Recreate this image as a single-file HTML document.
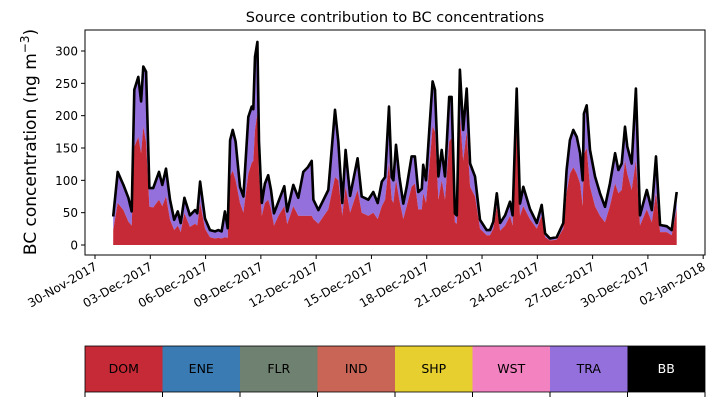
<!DOCTYPE html>
<html><head><meta charset="utf-8"><style>
body{margin:0;background:#fff;font-family:"Liberation Sans","DejaVu Sans",sans-serif}
svg text{font-family:"DejaVu Sans","Liberation Sans",sans-serif}
</style></head><body>
<svg id="c" width="714" height="402" xmlns="http://www.w3.org/2000/svg"></svg>
<script>
const days=[0.99,1.23,1.54,1.81,1.99,2.13,2.35,2.50,2.62,2.77,2.95,3.16,3.47,3.65,3.85,4.07,4.30,4.49,4.65,4.85,5.15,5.43,5.55,5.70,5.97,6.24,6.51,6.69,6.87,7.05,7.20,7.33,7.47,7.63,7.87,8.05,8.32,8.50,8.59,8.68,8.81,8.90,9.05,9.22,9.40,9.55,9.71,9.95,10.27,10.43,10.76,11.03,11.30,11.54,11.76,11.85,12.12,12.66,13.02,13.20,13.42,13.60,13.84,14.25,14.47,14.83,15.10,15.34,15.56,15.74,15.95,16.10,16.19,16.33,16.51,16.73,16.91,17.18,17.36,17.54,17.73,17.81,17.96,18.14,18.32,18.45,18.63,18.81,18.99,19.22,19.35,19.53,19.63,19.80,19.98,20.17,20.35,20.62,20.89,21.25,21.43,21.61,21.80,21.98,22.25,22.52,22.66,22.88,23.06,23.24,23.60,23.97,24.24,24.42,24.69,25.05,25.41,25.59,25.77,25.95,26.14,26.32,26.46,26.53,26.68,26.86,27.13,27.40,27.67,27.94,28.22,28.40,28.58,28.76,28.88,29.12,29.35,29.57,29.94,30.21,30.44,30.66,31.02,31.29,31.56];
const total=[44,113,93,73,52,240,260,222,276,268,88,88,113,93,118,70,39,52,34,73,46,54,49,98,41,23,21,23,21,52,26,162,178,160,90,75,198,214,210,291,314,160,65,95,108,85,49,67,91,52,93,73,113,120,130,70,54,85,209,160,65,147,76,134,75,70,82,65,98,105,214,105,100,155,106,64,90,137,137,82,87,124,100,178,253,240,106,147,106,229,229,49,46,271,178,242,126,106,39,23,23,36,80,34,46,67,46,242,64,90,56,34,62,18,10,12,34,116,162,178,167,142,100,203,216,147,106,80,59,95,142,116,126,183,152,126,242,46,85,54,137,31,29,23,82];
const dom=[23,65,54,36,30,152,167,142,183,158,59,58,70,60,75,39,23,30,20,49,28,33,30,65,25,12,10,11,10,12,11,106,115,100,65,50,110,127,130,178,204,110,45,65,70,55,30,45,60,32,60,45,45,45,45,40,33,55,105,100,45,90,50,85,50,45,50,40,60,70,127,70,65,100,70,40,60,90,95,55,55,80,65,120,183,175,70,100,70,160,165,35,33,200,130,175,90,75,25,15,15,25,60,22,30,45,30,180,45,60,40,25,45,12,7,8,25,80,110,120,110,95,60,140,150,90,60,45,35,60,95,80,85,130,110,85,130,30,55,35,80,20,20,15,55];
const yTicks=[0,50,100,150,200,250,300];
const xTickDays=[0,3,6,9,12,15,18,21,24,27,30,33];
const xTickLabels=["30-Nov-2017","03-Dec-2017","06-Dec-2017","09-Dec-2017","12-Dec-2017","15-Dec-2017","18-Dec-2017","21-Dec-2017","24-Dec-2017","27-Dec-2017","30-Dec-2017","02-Jan-2018"];
const sources=["DOM","ENE","FLR","IND","SHP","WST","TRA","BB"];
const srcColors=["#c62a36","#3a7bb3","#6f8170","#c96556","#e6cf2f","#f282c0","#9370db","#000000"];

const NS="http://www.w3.org/2000/svg",svg=document.getElementById('c');
function el(t,a,p){const e=document.createElementNS(NS,t);for(const k in a)e.setAttribute(k,a[k]);(p||svg).appendChild(e);return e;}
const X=d=>95+18.43*d, Y=v=>245-0.6467*v;
const L=85,R=705,T=30,B=255;

function area(lo,hi,color,name){
  let d='M'+X(days[0])+','+Y(hi[0]);
  for(let i=1;i<days.length;i++)d+='L'+X(days[i]).toFixed(1)+','+Y(hi[i]).toFixed(1);
  for(let i=days.length-1;i>=0;i--)d+='L'+X(days[i]).toFixed(1)+','+Y(lo[i]).toFixed(1);
  const p=el('path',{d:d+'Z',fill:color});
  
  
}
const zeros=days.map(()=>0);
area(dom,total,srcColors[6],'tra-area');
area(zeros,dom,srcColors[0],'dom-area');
let ld='';
for(let i=0;i<days.length;i++)ld+=(i?'L':'M')+X(days[i]).toFixed(1)+','+Y(total[i]).toFixed(1);
const line=el('path',{d:ld,fill:'none',stroke:'#000','stroke-width':2.6,'stroke-linejoin':'round'});



const fr=el('rect',{x:L,y:T,width:R-L,height:B-T,fill:'none',stroke:'#000','stroke-width':1});



yTicks.forEach(v=>{
  el('line',{x1:L-4,x2:L,y1:Y(v),y2:Y(v),stroke:'#000'});
  const t=el('text',{x:L-7,y:Y(v)+4.5,'text-anchor':'end','font-size':12});
  t.textContent=v;
  
  
});
xTickDays.forEach((d,i)=>{
  const x=X(d);
  el('line',{x1:x,x2:x,y1:B,y2:B+4,stroke:'#000'});
  const t=el('text',{x:x+3,y:B+14,'text-anchor':'end','font-size':12,transform:`rotate(-30 ${x+3} ${B+14})`});
  t.textContent=xTickLabels[i];
  
  
});
const title=el('text',{x:395,y:22,'text-anchor':'middle','font-size':14.5});
title.textContent='Source contribution to BC concentrations';


const yl=el('text',{x:36,y:142,'text-anchor':'middle','font-size':17,transform:'rotate(-90 36 142)'});
yl.innerHTML='BC concentration (ng m<tspan dy="-7" font-size="12">−3</tspan><tspan dy="7">)</tspan>';



const w=(R-L)/sources.length;
sources.forEach((s,i)=>{
  const r=el('rect',{x:L+i*w,y:346,width:w,height:46,fill:srcColors[i]});
  
  
  const t=el('text',{x:L+i*w+w/2,y:373,'text-anchor':'middle','font-size':12.5,fill:s==='BB'?'#fff':'#000'});
  t.textContent=s;
  
  
});
el('rect',{x:L,y:346,width:R-L,height:46,fill:'none',stroke:'#000','stroke-width':0.8});
for(let i=0;i<=sources.length;i++)el('line',{x1:L+i*w,x2:L+i*w,y1:392,y2:397,stroke:'#000'});
</script>
</body></html>
